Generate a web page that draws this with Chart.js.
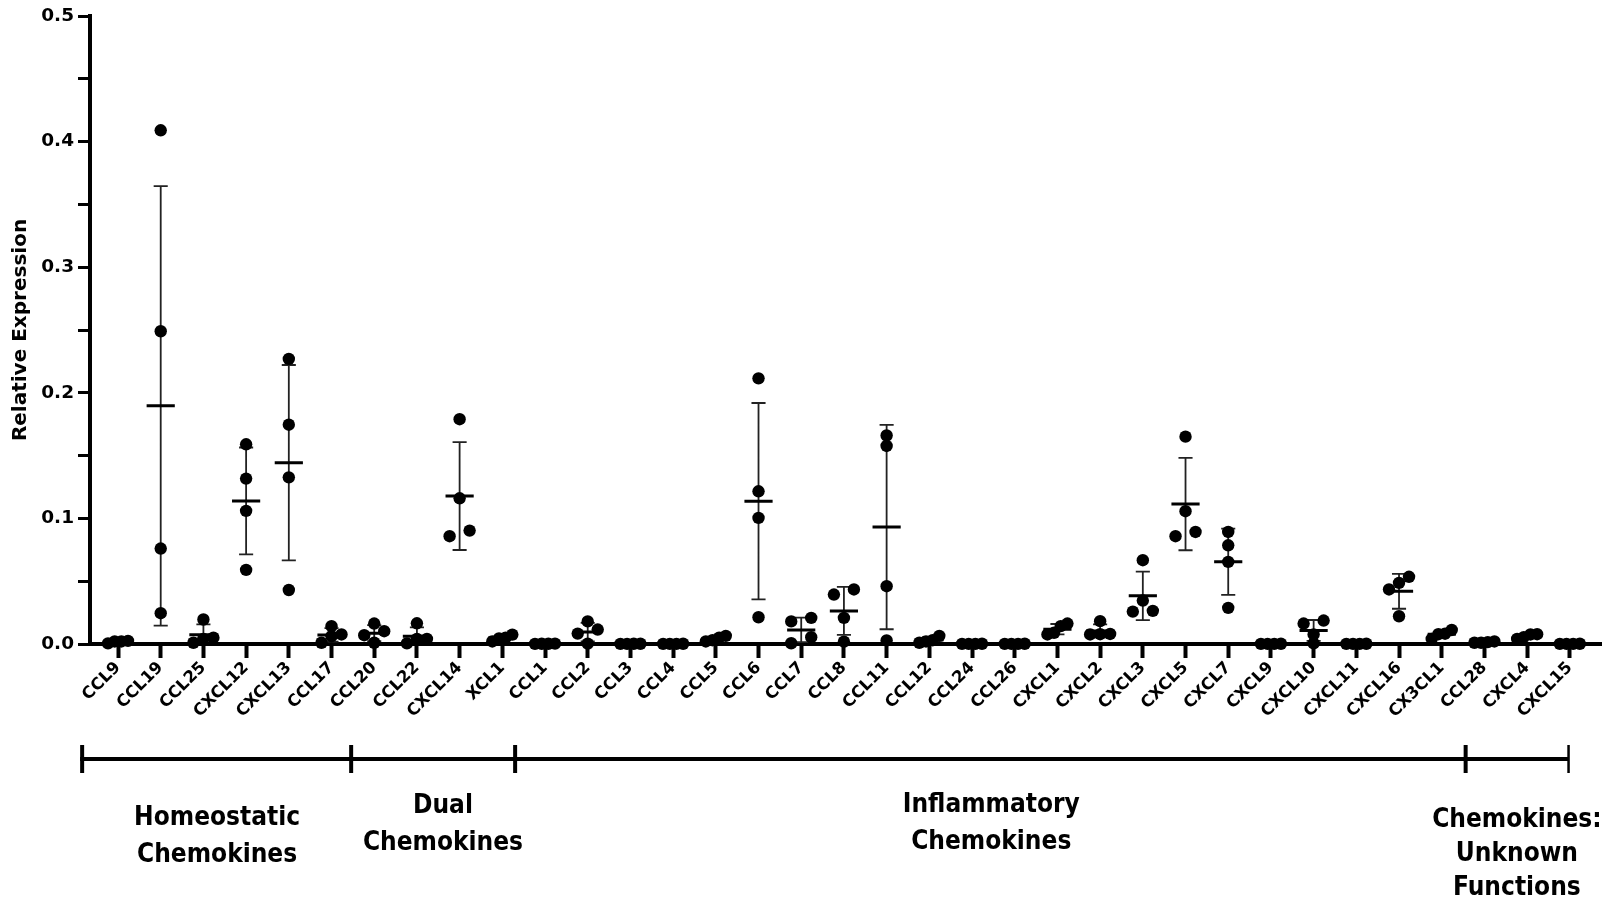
<!DOCTYPE html>
<html>
<head>
<meta charset="utf-8">
<title>Relative chemokine expression</title>
<script src="https://cdn.jsdelivr.net/npm/chart.js@4.4.1/dist/chart.umd.min.js"></script>
<style>
  html, body { margin: 0; padding: 0; background: #ffffff; }
  #chart { display: block; }
</style>
</head>
<body>
<canvas id="chart" width="1609" height="910"></canvas>
<script>
// Chemokine genes along the x axis
const categories = ['CCL9','CCL19','CCL25','CXCL12','CXCL13','CCL17','CCL20','CCL22','CXCL14','XCL1',
  'CCL1','CCL2','CCL3','CCL4','CCL5','CCL6','CCL7','CCL8','CCL11','CCL12','CCL24','CCL26',
  'CXCL1','CXCL2','CXCL3','CXCL5','CXCL7','CXCL9','CXCL10','CXCL11','CXCL16','CX3CL1',
  'CCL28','CXCL4','CXCL15'];

// Four replicate measurements per gene (relative expression)
const replicateA = [0.0005, 0.409, 0.0195, 0.159, 0.227, 0.0142, 0.0163, 0.0165, 0.179, 0.0075,
  0.0003, 0.0180, 0.0002, 0.0002, 0.0065, 0.2115, 0.0208, 0.0434, 0.166, 0.0065, 0.0002, 0.0002,
  0.0163, 0.0182, 0.0667, 0.1651, 0.0892, 0.0002, 0.0187, 0.0002, 0.0535, 0.0112,
  0.0020, 0.0078, 0.0002];
const replicateB = [0.0020, 0.249, 0.0050, 0.1317, 0.1746, 0.0076, 0.0102, 0.0040, 0.116, 0.0050,
  0.0002, 0.0115, 0.0002, 0.0001, 0.0050, 0.1216, 0.0180, 0.0394, 0.1577, 0.0030, 0.0001, 0.0001,
  0.0142, 0.0080, 0.0346, 0.1057, 0.0786, 0.0001, 0.0163, 0.0001, 0.0487, 0.0082,
  0.0015, 0.0076, 0.0001];
const replicateC = [0.0025, 0.076, 0.0010, 0.106, 0.1327, 0.0062, 0.0070, 0.0040, 0.0903, 0.0045,
  0.0002, 0.0083, 0.0001, 0.0001, 0.0030, 0.1004, 0.0054, 0.0208, 0.046, 0.0020, 0.0001, 0.0001,
  0.0089, 0.0078, 0.0264, 0.0892, 0.0654, 0.0001, 0.0076, 0.0001, 0.0434, 0.0078,
  0.0010, 0.0055, 0.0001];
const replicateD = [0.0020, 0.0245, 0.0040, 0.059, 0.043, 0.0010, 0.0010, 0.0005, 0.0858, 0.0020,
  0.0001, 0.0003, 0.0001, 0.0001, 0.0020, 0.0213, 0.0006, 0.0018, 0.0028, 0.0010, 0.0001, 0.0001,
  0.0076, 0.0076, 0.0258, 0.0858, 0.0288, 0.0001, 0.0005, 0.0001, 0.0221, 0.0040,
  0.0010, 0.0040, 0.0001];

// Functional groups shown under the axis: label lines, bracket limits (category units)
const groupLabels = [
  ['Homeostatic', 'Chemokines'],
  ['Dual', 'Chemokines'],
  ['Inflammatory', 'Chemokines'],
  ['Chemokines:', 'Unknown', 'Functions']
];
const groupBounds = [-0.84, 5.46, 9.3, 31.56, 33.97];
const groupLabelAt = [2.32, 7.61, 20.45, 32.76];
const groupLabelTop = [818, 806, 805, 820];

// ---- summary statistics (mean ± SD) ----
const replicates = [replicateA, replicateB, replicateC, replicateD];
const values = categories.map((_, i) => replicates.map(r => r[i]));
const means = values.map(v => v.reduce((a, b) => a + b, 0) / v.length);
const sds = values.map((v, i) =>
  Math.sqrt(v.reduce((a, b) => a + (b - means[i]) ** 2, 0) / (v.length - 1)));

const MEAN_HALF = 0.33;   // half width of the mean bar, in category units
const CAP_HALF = 0.165;   // half width of the SD caps

const meanSegments = [];
const sdSegments = [];
categories.forEach((_, i) => {
  const m = means[i], lo = m - sds[i], hi = m + sds[i];
  meanSegments.push({x: i - MEAN_HALF, y: m}, {x: i + MEAN_HALF, y: m}, {x: i, y: null});
  sdSegments.push(
    {x: i, y: lo}, {x: i, y: hi}, {x: i, y: null},
    {x: i - CAP_HALF, y: hi}, {x: i + CAP_HALF, y: hi}, {x: i, y: null},
    {x: i - CAP_HALF, y: lo}, {x: i + CAP_HALF, y: lo}, {x: i, y: null});
});

const dots = [];
values.forEach((v, i) => v.forEach(y => dots.push({x: i, y})));

// ---- layout helpers ----
const CHART_LEFT = 90, CHART_TOP = 16, CHART_BOTTOM = 644, CHART_RIGHT = 1601;
const W = 1609, H = 910;

const FONT_WIDE = '"DejaVu Sans", sans-serif';
const FONT_COND = '"DejaVu Sans Condensed", "DejaVu Sans", sans-serif';

const groupBracketPlugin = {
  id: 'groupBrackets',
  afterDraw(chart) {
    const {ctx} = chart;
    const xs = chart.scales.x;
    const yLine = 759;
    const px = groupBounds.map(b => xs.getPixelForValue(b));
    ctx.save();
    ctx.strokeStyle = '#000';
    ctx.lineWidth = 4;
    ctx.lineCap = 'butt';
    ctx.beginPath();
    ctx.moveTo(px[0] - 2, yLine);
    ctx.lineTo(px[px.length - 1], yLine);
    ctx.stroke();
    px.forEach((p, k) => {
      ctx.lineWidth = k === px.length - 1 ? 2.5 : 4;
      ctx.beginPath();
      ctx.moveTo(p, yLine - 14);
      ctx.lineTo(p, yLine + 14);
      ctx.stroke();
    });
    ctx.fillStyle = '#000';
    ctx.font = 'bold 26px ' + FONT_COND;
    ctx.textAlign = 'center';
    ctx.textBaseline = 'middle';
    groupLabels.forEach((lines, g) => {
      const cx = xs.getPixelForValue(groupLabelAt[g]);
      const lh = lines.length > 2 ? 34 : 37;
      lines.forEach((t, k) => ctx.fillText(t, cx, groupLabelTop[g] + k * lh));
    });
    ctx.restore();
  }
};

// Spread overlapping replicate dots sideways, the way a scatter dot plot does
function spreadDots(chart) {
  const xs = chart.scales.x, ys = chart.scales.y;
  const unit = xs.getPixelForValue(1) - xs.getPixelForValue(0);
  const SPREAD = 10, ROW_GAP = 7;
  const out = [];
  values.forEach((v, i) => {
    const pts = v.map(y => ({y, py: ys.getPixelForValue(y)})).sort((a, b) => b.py - a.py);
    const rows = [];
    let cur = [];
    pts.forEach(p => {
      if (cur.length && Math.abs(p.py - cur[cur.length - 1].py) >= ROW_GAP) {
        rows.push(cur);
        cur = [];
      }
      cur.push(p);
    });
    if (cur.length) rows.push(cur);
    rows.forEach(r => {
      const n = r.length;
      r.forEach((p, k) => {
        const off = n > 1 ? -SPREAD + k * (2 * SPREAD) / (n - 1) : 0;
        out.push({x: i + off / unit, y: p.y});
      });
    });
  });
  chart.data.datasets[0].data = out;
  chart.update('none');
}

const chart = new Chart(document.getElementById('chart'), {
  type: 'scatter',
  data: {
    datasets: [
      {
        label: 'Replicates',
        data: dots,
        pointRadius: 6.2,
        pointHoverRadius: 6.2,
        pointBackgroundColor: '#000',
        pointBorderColor: '#000',
        pointBorderWidth: 0,
        clip: false
      },
      {
        label: 'Mean',
        data: meanSegments,
        showLine: true,
        spanGaps: false,
        borderColor: '#000',
        borderWidth: 3,
        pointRadius: 0,
        clip: false
      },
      {
        label: 'SD',
        data: sdSegments,
        showLine: true,
        spanGaps: false,
        borderColor: '#222',
        borderWidth: 1.8,
        pointRadius: 0,
        clip: 0
      }
    ]
  },
  options: {
    responsive: false,
    animation: false,
    events: [],
    layout: {
      padding: {left: 0, top: CHART_TOP, right: W - CHART_RIGHT, bottom: 0}
    },
    plugins: {
      legend: {display: false},
      tooltip: {enabled: false}
    },
    scales: {
      x: {
        type: 'linear',
        min: -0.656,
        max: 34.73,
        afterBuildTicks(axis) {
          axis.ticks = categories.map((_, i) => ({value: i}));
        },
        afterFit(scale) {
          scale.height = H - CHART_BOTTOM;
          scale.paddingLeft = 0;
          scale.paddingRight = 0;
        },
        grid: {
          drawOnChartArea: false,
          drawTicks: true,
          tickLength: 14,
          tickWidth: 4,
          tickColor: '#000'
        },
        border: {display: true, color: '#000', width: 4},
        ticks: {
          autoSkip: false,
          minRotation: 45,
          maxRotation: 45,
          padding: 0,
          color: '#000',
          font: {family: FONT_WIDE, size: 16.5, weight: 'bold'},
          callback: (value) => categories[Math.round(value)]
        }
      },
      y: {
        type: 'linear',
        min: 0,
        max: 0.5,
        afterBuildTicks(axis) {
          const t = [];
          for (let k = 0; k <= 10; k++) t.push({value: k * 0.05});
          axis.ticks = t;
        },
        afterFit(scale) {
          scale.width = CHART_LEFT;
          scale.paddingTop = 0;
          scale.paddingBottom = 0;
        },
        grid: {
          drawOnChartArea: false,
          drawTicks: true,
          tickLength: 12,
          tickWidth: 3,
          tickColor: '#000'
        },
        border: {display: true, color: '#000', width: 4},
        ticks: {
          padding: 4,
          color: '#000',
          font: {family: FONT_WIDE, size: 18.5, weight: 'bold'},
          callback: (value) => {
            const half = Math.round(value * 20);
            return half % 2 === 0 ? value.toFixed(1) : '';
          }
        },
        title: {
          display: true,
          text: 'Relative Expression',
          color: '#000',
          font: {family: FONT_WIDE, size: 20, weight: 'bold'},
          padding: {top: 9, bottom: 0}
        }
      }
    }
  },
  plugins: [groupBracketPlugin]
});

spreadDots(chart);
</script>
</body>
</html>
